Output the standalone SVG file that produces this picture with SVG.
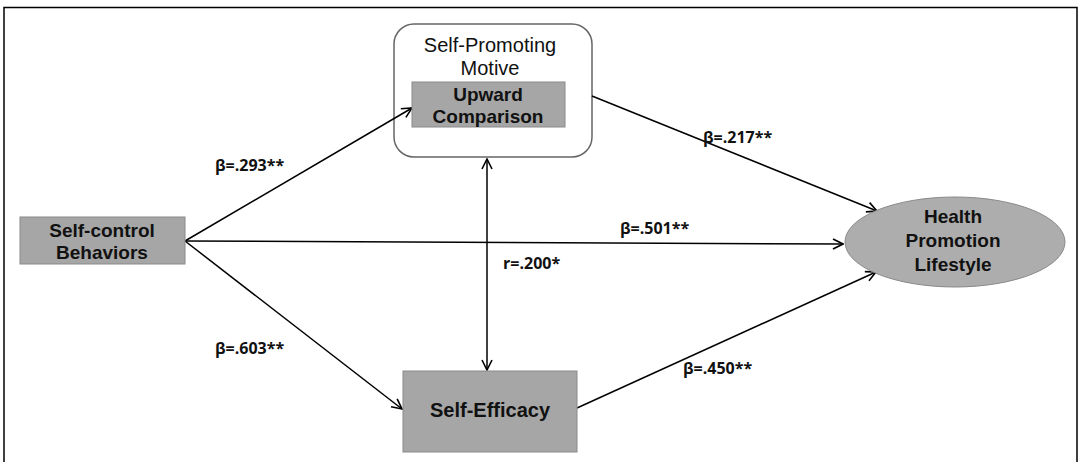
<svg xmlns="http://www.w3.org/2000/svg" width="1081" height="462" viewBox="0 0 1081 462">
<defs>
<marker id="ah" viewBox="0 0 12 12" refX="11" refY="6" markerWidth="12" markerHeight="12" markerUnits="userSpaceOnUse" orient="auto-start-reverse">
<path d="M1,1 L11,6 L1,11" fill="none" stroke="#000" stroke-width="1.6"/>
</marker>
<style>
.box{fill:#a6a6a6;stroke:#8a8a8a;stroke-width:1}
.nt{font-family:"Liberation Sans",Arial,sans-serif;font-size:19px;font-weight:bold;fill:#111;text-anchor:middle}
.lb{font-family:"Open Sans","Noto Sans",sans-serif;font-size:16px;font-weight:bold;fill:#111}
.cn{stroke:#000;stroke-width:1.5;fill:none;marker-end:url(#ah)}
</style>
</defs>
<rect x="0" y="0" width="1081" height="462" fill="#fff"/>
<path d="M4,470 L4,7.5 L1077,7.5 L1077,470" fill="none" stroke="#000" stroke-width="1.5"/>
<g id="self-promoting">
<rect x="394" y="24" width="198" height="133" rx="20" fill="#fff" stroke="#666" stroke-width="1.5"/>
<text class="nt" style="font-weight:normal;font-size:20px"><tspan x="490" y="52">Self-Promoting</tspan><tspan x="490" y="75">Motive</tspan></text>
</g>
<g id="connectors">
<line class="cn" x1="185" y1="241" x2="412" y2="108"/>
<line class="cn" x1="185" y1="241" x2="843" y2="244"/>
<line class="cn" x1="185" y1="241" x2="402" y2="409"/>
<line class="cn" x1="592" y1="96" x2="877" y2="211"/>
<line class="cn" x1="577" y1="408" x2="876" y2="272"/>
<line class="cn" x1="487" y1="159" x2="487" y2="370" style="marker-start:url(#ah)"/>
<text class="lb" x="215" y="171">β=.293**</text>
<text class="lb" x="620" y="234">β=.501**</text>
<text class="lb" x="503" y="269">r=.200*</text>
<text class="lb" x="215" y="354">β=.603**</text>
<text class="lb" x="703" y="143">β=.217**</text>
<text class="lb" x="683" y="374">β=.450**</text>
</g>
<g id="upward">
<rect class="box" x="412" y="82" width="153" height="45"/>
<text class="nt"><tspan x="488" y="101">Upward</tspan><tspan x="488" y="123">Comparison</tspan></text>
</g>
<g id="self-control">
<rect class="box" x="20" y="217" width="165" height="47"/>
<text class="nt"><tspan x="102" y="237">Self-control</tspan><tspan x="102" y="259">Behaviors</tspan></text>
</g>
<g id="self-efficacy">
<rect class="box" x="403" y="371" width="174" height="81"/>
<text class="nt" style="font-size:20px" x="490" y="417">Self-Efficacy</text>
</g>
<g id="health">
<ellipse cx="955" cy="242" rx="110" ry="45" fill="#adadad" stroke="#8a8a8a" stroke-width="1"/>
<text class="nt"><tspan x="953" y="223">Health</tspan><tspan x="953" y="247">Promotion</tspan><tspan x="953" y="271">Lifestyle</tspan></text>
</g>
</svg>
